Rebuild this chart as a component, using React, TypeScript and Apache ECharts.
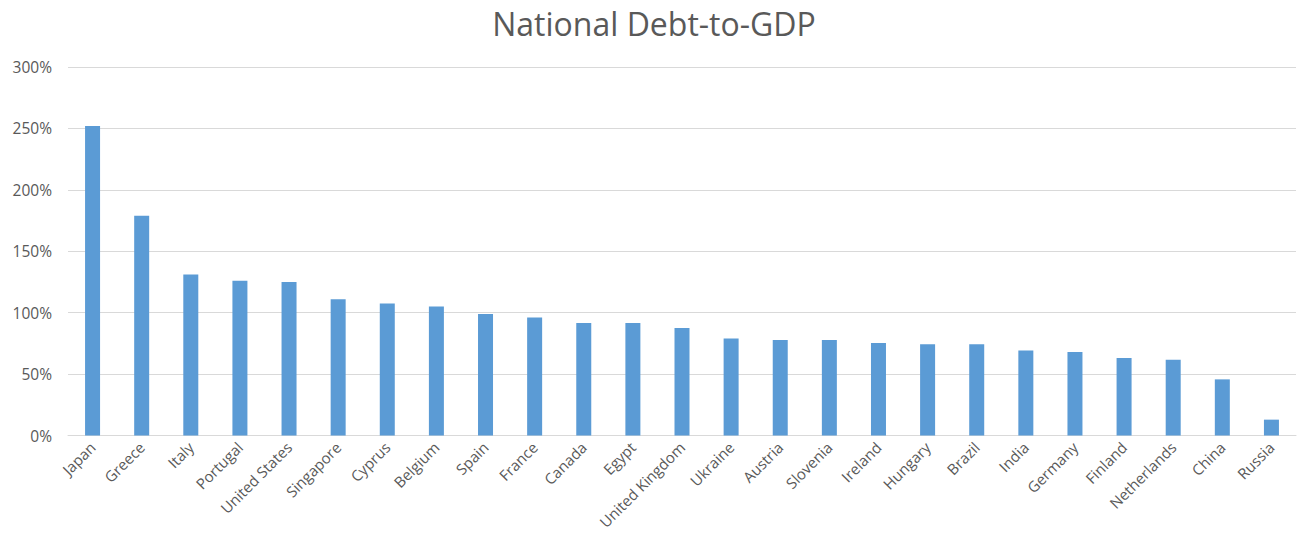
import React, { useEffect, useRef } from "react";
import * as echarts from "echarts";

const countries = [
  "Japan", "Greece", "Italy", "Portugal", "United States", "Singapore", "Cyprus",
  "Belgium", "Spain", "France", "Canada", "Egypt", "United Kingdom", "Ukraine",
  "Austria", "Slovenia", "Ireland", "Hungary", "Brazil", "India", "Germany",
  "Finland", "Netherlands", "China", "Russia",
];
const debtToGdp = [
  252, 179, 131, 126, 125, 111, 107.5, 105, 99, 96, 91.5, 91.5, 87.5, 79, 77.7,
  77.7, 75.3, 74.2, 74.2, 69.3, 68, 63, 61.7, 45.7, 12.9,
];
const yTicks = [0, 50, 100, 150, 200, 250, 300];

export default function App() {
  const ref = useRef<HTMLDivElement>(null);
  useEffect(() => {
    document.body.style.margin = "0";
    const chart = echarts.init(ref.current!, null, { renderer: "svg" });
    const font = "'Open Sans', 'Noto Sans', sans-serif";
    chart.setOption({
      animation: false,
      backgroundColor: "#ffffff",
      title: {
        text: "National Debt-to-GDP",
        left: "center",
        top: 2,
        textStyle: { fontFamily: font, fontSize: 32, fontWeight: "normal", color: "#595959" },
      },
      grid: { left: 68, right: 12, top: 67, bottom: 108.5, containLabel: false },
      xAxis: {
        type: "category",
        data: countries,
        axisLine: { show: true, lineStyle: { color: "#d9d9d9", width: 1 } },
        axisTick: { show: false },
        axisLabel: {
          rotate: 45,
          interval: 0,
          margin: 9,
          fontFamily: font,
          fontSize: 15,
          color: "#595959",
        },
      },
      yAxis: {
        type: "value",
        min: yTicks[0],
        max: yTicks[yTicks.length - 1],
        interval: 50,
        axisLine: { show: false },
        axisTick: { show: false },
        splitLine: { lineStyle: { color: "#d9d9d9", width: 1 } },
        axisLabel: {
          formatter: (v: number) => `${v}%`,
          margin: 16,
          fontFamily: font,
          fontSize: 15.5,
          color: "#595959",
        },
      },
      series: [
        {
          type: "bar",
          data: debtToGdp,
          barWidth: 15,
          itemStyle: { color: "#5B9BD5" },
        },
      ],
    });
    return () => chart.dispose();
  }, []);
  return (
    <div
      ref={ref}
      style={{ position: "absolute", left: 0, top: 0, width: 1308, height: 544 }}
    />
  );
}
